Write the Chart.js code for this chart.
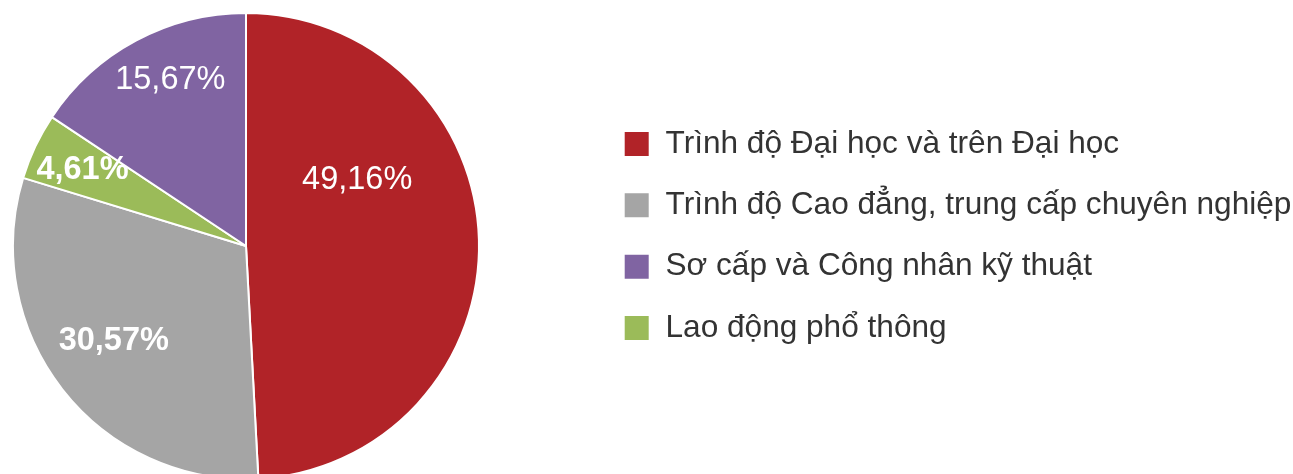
<!DOCTYPE html>
<html lang="vi">
<head>
<meta charset="utf-8">
<script src="https://cdn.jsdelivr.net/npm/chart.js@4"></script>
<style>
  html, body { margin: 0; padding: 0; background: #fff; overflow: hidden; }
  /* canvas runs a bit past the window on the left and bottom, as the pie is cropped there */
  #wrap { position: absolute; left: -102px; top: 0; width: 1395px; height: 480px; }
</style>
</head>
<body>
<div id="wrap"><canvas id="pie"></canvas></div>
<script>
// ── Data ──────────────────────────────────────────────────────────────────
const categories = [
  'Trình độ Đại học và trên Đại học',
  'Trình độ Cao đẳng, trung cấp chuyên nghiệp',
  'Lao động phổ thông',
  'Sơ cấp và Công nhân kỹ thuật'
];
const shares      = [49.16, 30.57, 4.61, 15.67];
const colors      = ['#B12328', '#A5A5A5', '#9BBB59', '#8064A2'];
const legendOrder = [0, 1, 3, 2];           // legend lists purple before green
const boldLabel   = [false, true, true, false];

const fmt = v => v.toFixed(2).replace('.', ',') + '%';

// ── Value labels inside slices ────────────────────────────────────────────
// place: [fraction along the arc, fraction of radius]
const sliceLabels = {
  id: 'sliceLabels',
  afterDatasetsDraw(chart, args, opts) {
    const { ctx } = chart;
    const meta = chart.getDatasetMeta(0);
    ctx.save();
    ctx.fillStyle = '#fff';
    ctx.textAlign = 'center';
    ctx.textBaseline = 'middle';
    meta.data.forEach((arc, i) => {
      const p = opts.place[i];
      const a = arc.startAngle + p[0] * (arc.endAngle - arc.startAngle);
      const r = p[1] * arc.outerRadius;
      ctx.font = (boldLabel[i] ? 'bold ' : '') + opts.size + 'px "Liberation Sans", Arial, sans-serif';
      ctx.fillText(fmt(shares[i]), arc.x + Math.cos(a) * r, arc.y + Math.sin(a) * r);
    });
    ctx.restore();
  }
};

new Chart(document.getElementById('pie'), {
  type: 'pie',
  plugins: [sliceLabels],
  data: {
    labels: categories,
    datasets: [{ data: shares, backgroundColor: colors,
                 borderColor: '#fff', borderWidth: 2, hoverOffset: 0 }]
  },
  options: {
    responsive: true, maintainAspectRatio: false, animation: false,
    layout: { padding: { left: 0, right: 0, top: 12, bottom: 0 } },
    plugins: {
      tooltip: { enabled: false },
      sliceLabels: { size: 32.5, place: [[0.336, 0.554], [0.52, 0.70], [0.47, 0.773], [0.565, 0.782]] },
      legend: {
        position: 'right',
        maxWidth: 699,
        title: { display: true, text: '', font: { size: 10, lineHeight: 0 }, padding: { top: 0, bottom: -20 } },
        labels: {
          color: '#333',
          font: { family: '"Liberation Sans", Arial, sans-serif', size: 31.6 },
          boxWidth: 26, boxHeight: 26, padding: 29.7,
          sort: (a, b) => legendOrder.indexOf(a.index) - legendOrder.indexOf(b.index)
        }
      }
    }
  }
});
</script>
</body>
</html>
